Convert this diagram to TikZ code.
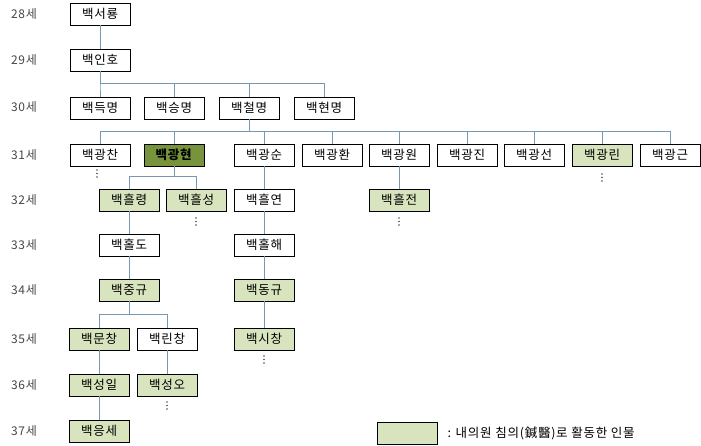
\documentclass[tikz,border=0pt]{standalone}
\usepackage{fontspec}
\setmainfont{Noto Sans CJK KR}[LetterSpace=6]
\usepackage{tikz}
\definecolor{linkblue}{RGB}{120,152,178}
\definecolor{palegreen}{RGB}{215,228,189}
\definecolor{darkgreen}{RGB}{119,147,60}
\definecolor{labelgray}{RGB}{70,70,70}

\begin{document}
\begin{tikzpicture}[x=1pt,y=-1pt,
  person/.style={draw,fill=white,minimum width=60pt,minimum height=22pt,inner sep=0pt,font=\fontsize{12.5}{12.5}\selectfont},
  acu/.style={person,fill=palegreen},
  famous/.style={person,fill=darkgreen},
  link/.style={draw=linkblue,line width=1pt},
  gen/.style={text=labelgray,font=\fontsize{12}{12}\selectfont}]
\useasboundingbox (0,0) rectangle (701,446);
%\draw [help lines] (0,0) grid (701,446);
% generations
\node [gen] (g28) at (24,14) {28세};
\node [gen] (g29) at (24,60) {29세};
\node [gen] (g30) at (24,107) {30세};
\node [gen] (g31) at (24,155) {31세};
\node [gen] (g32) at (24,200) {32세};
\node [gen] (g33) at (24,245) {33세};
\node [gen] (g34) at (24,290) {34세};
\node [gen] (g35) at (24,339) {35세};
\node [gen] (g36) at (24,385) {36세};
\node [gen] (g37) at (24,431) {37세};
% people
\node [person] (seoryong) at (100,14) {백서룡};
\node [person] (inho) at (100,60) {백인호};
\node [person] (deukmyeong) at (100,108) {백득명};
\node [person] (seungmyeong) at (174,108) {백승명};
\node [person] (cheolmyeong) at (249,108) {백철명};
\node [person] (hyeonmyeong) at (324,108) {백현명};
\node [person] (gwangchan) at (100,155) {백광찬};
\node [famous] (gwanghyeon) at (174,155) {\textbf{백광현}};
\node [person] (gwangsun) at (264,155) {백광순};
\node [person] (gwanghwan) at (332,155) {백광환};
\node [person] (gwangwon) at (399,155) {백광원};
\node [person] (gwangjin) at (467,155) {백광진};
\node [person] (gwangseon) at (534,155) {백광선};
\node [acu] (gwangrin) at (602,155) {백광린};
\node [person] (gwanggeun) at (670,155) {백광근};
\node [acu] (heungryeong) at (129,200) {백흘령};
\node [acu] (heungseong) at (196,200) {백흘성};
\node [person] (heungyeon) at (264,200) {백흘연};
\node [acu] (heungjeon) at (399,200) {백흘전};
\node [person] (holdo) at (129,245) {백홀도};
\node [person] (holhae) at (264,245) {백홀해};
\node [acu] (junggyu) at (129,290) {백중규};
\node [acu] (donggyu) at (264,290) {백동규};
\node [acu] (munchang) at (99,339) {백문창};
\node [person] (rinchang) at (167,339) {백린창};
\node [acu] (sichang) at (264,339) {백시창};
\node [acu] (seongil) at (99,385) {백성일};
\node [acu] (seongo) at (167,385) {백성오};
\node [acu] (eungse) at (99,431) {백응세};
% dots
\foreach \x/\y in {97/170,602/174,196/218,399/218,264/356,167/402}
  \foreach \d in {0,3.5,7}
    \fill [black!70] (\x,\y+\d) circle (0.8pt);
% lines
\coordinate (bus30) at (0,84);
\coordinate (bus31) at (0,132);
\coordinate (bus32) at (0,177);
\coordinate (bus35) at (0,314);
\draw [link] (seoryong) -- (inho);
\foreach \c in {deukmyeong,seungmyeong,cheolmyeong,hyeonmyeong}
  \draw [link] (inho.south) -- (inho.south |- bus30) -| (\c.north);
\foreach \c in {gwangchan,gwanghyeon,gwangsun,gwanghwan,gwangwon,gwangjin,gwangseon,gwangrin,gwanggeun}
  \draw [link] (cheolmyeong.south) -- (cheolmyeong.south |- bus31) -| (\c.north);
\foreach \c in {heungryeong,heungseong}
  \draw [link] (gwanghyeon.south) -- (gwanghyeon.south |- bus32) -| (\c.north);
\foreach \c in {munchang,rinchang}
  \draw [link] (junggyu.south) -- (junggyu.south |- bus35) -| (\c.north);
\draw [link] (gwangsun) -- (heungyeon) -- (holhae) -- (donggyu) -- (sichang);
\draw [link] (gwangwon) -- (heungjeon);
\draw [link] (heungryeong) -- (holdo) -- (junggyu);
\draw [link] (munchang) -- (seongil) -- (eungse);
\draw [link] (rinchang) -- (seongo);
% legend
\node [acu] (key) at (407,433) {};
\node [anchor=west,font=\fontsize{12.5}{12.5}\selectfont] (keytext) at (444,433) {: 내의원 침의(鍼醫)로 활동한 인물};
\end{tikzpicture}
\end{document}
